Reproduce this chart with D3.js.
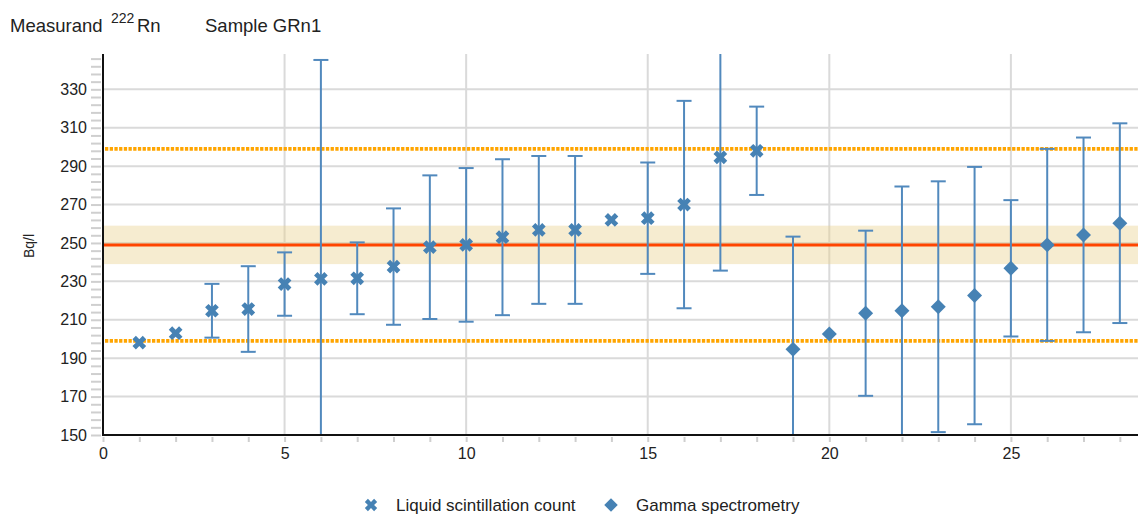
<!DOCTYPE html>
<html lang="en">

<head>
    <meta charset="UTF-8">
    <title>Measurand 222Rn - Sample GRn1</title>
    <style>
        body,
        html {
            margin: 0;
            padding: 0;
            background: #fff;
            overflow: hidden;
        }

        svg {
            display: block;
            font-family: "Liberation Sans", Arial, sans-serif;
        }

        .grid line {
            stroke: #dadada;
            stroke-width: 2;
        }

        .axis text {
            font-size: 16px;
            fill: #222;
        }

        .axis line {
            stroke: #cfcfcf;
            stroke-width: 2;
        }

        .axis path {
            display: none;
        }
    </style>
</head>

<body>
    <svg></svg>
    <script src="https://d3js.org/d3.v7.min.js"></script>
    <script>
        // participant numbers (lab codes on the x axis)
        const lscLabs = [1, 2, 3, 4, 5, 6, 7, 8, 9, 10, 11, 12, 13, 14, 15, 16, 17, 18];
        const lscValues = [198.1, 203.0, 214.7, 215.6, 228.6, 231.3, 231.6, 237.7, 247.8, 249.0, 253.0, 256.8, 256.8, 262.0, 262.9, 270.0, 294.6, 298.0];
        const lscUnc = [0, 0, 14.0, 22.3, 16.5, 114.0, 18.7, 30.3, 37.4, 40.0, 40.6, 38.5, 38.5, 0, 29.0, 54.0, 59.0, 23.0];

        const gammaLabs = [19, 20, 21, 22, 23, 24, 25, 26, 27, 28];
        const gammaValues = [194.6, 202.6, 213.4, 214.7, 216.8, 222.6, 236.8, 249.0, 254.2, 260.3];
        const gammaUnc = [58.7, 0, 43.0, 64.7, 65.3, 67.0, 35.5, 50.0, 50.7, 52.0];

        // reference value, its uncertainty and the acceptance limits
        const refValue = 249;
        const refUnc = 10;
        const limits = [199, 299];

        const yTicks = [150, 170, 190, 210, 230, 250, 270, 290, 310, 330];
        const xTicks = [0, 5, 10, 15, 20, 25];

        const width = 1144, height = 517;
        const margin = { top: 54, right: 6, bottom: 82, left: 103 };
        const markerColor = "#4682b4";
        const barColor = "#5189bd";

        const svg = d3.select("svg")
            .attr("width", width)
            .attr("height", height);

        const x = d3.scaleLinear()
            .domain([0, 28.5])
            .range([margin.left, width - margin.right]);

        const y = d3.scaleLinear()
            .domain([150, 348.4])
            .range([height - margin.bottom, margin.top]);

        svg.append("clipPath")
            .attr("id", "plot-clip")
            .append("rect")
            .attr("x", margin.left)
            .attr("y", margin.top)
            .attr("width", width - margin.right - margin.left)
            .attr("height", height - margin.bottom - margin.top);

        // grid lines
        const grid = svg.append("g").attr("class", "grid");
        grid.selectAll(".h")
            .data(yTicks)
            .enter().append("line")
            .attr("x1", margin.left)
            .attr("x2", width - margin.right)
            .attr("y1", d => y(d))
            .attr("y2", d => y(d));
        grid.selectAll(".v")
            .data(xTicks.filter(d => d > 0))
            .enter().append("line")
            .attr("x1", d => x(d))
            .attr("x2", d => x(d))
            .attr("y1", margin.top)
            .attr("y2", height - margin.bottom);

        // reference band and lines
        svg.append("rect")
            .attr("x", margin.left)
            .attr("width", width - margin.right - margin.left)
            .attr("y", y(refValue + refUnc))
            .attr("height", y(refValue - refUnc) - y(refValue + refUnc))
            .attr("fill", "#e8d08a")
            .attr("fill-opacity", 0.4);

        svg.append("line")
            .attr("x1", margin.left)
            .attr("x2", width - margin.right)
            .attr("y1", y(refValue))
            .attr("y2", y(refValue))
            .attr("stroke", "#ff4500")
            .attr("stroke-width", 3);

        svg.selectAll(".limit")
            .data(limits)
            .enter().append("line")
            .attr("class", "limit")
            .attr("x1", margin.left + 2)
            .attr("x2", width - margin.right)
            .attr("y1", d => y(d))
            .attr("y2", d => y(d))
            .attr("stroke", "#ffa500")
            .attr("stroke-width", 3.6)
            .attr("stroke-dasharray", "3.3,1.4");

        // axes
        const yAxis = d3.axisLeft(y)
            .tickValues(d3.range(150, 347, 4))
            .tickSize(10)
            .tickPadding(4)
            .tickFormat(d => yTicks.includes(d) ? d : "");
        svg.append("g")
            .attr("class", "axis")
            .attr("transform", `translate(${margin.left - 2},0)`)
            .call(yAxis);

        const xAxis = d3.axisBottom(x)
            .tickValues(d3.range(0, 29, 1))
            .tickSize(5)
            .tickPadding(6)
            .tickFormat(d => xTicks.includes(d) ? d : "");
        svg.append("g")
            .attr("class", "axis")
            .attr("transform", `translate(0,${height - margin.bottom + 2})`)
            .call(xAxis);

        // error bars
        const points = lscLabs.map((lab, i) => ({ lab, v: lscValues[i], u: lscUnc[i], kind: "lsc" }))
            .concat(gammaLabs.map((lab, i) => ({ lab, v: gammaValues[i], u: gammaUnc[i], kind: "gamma" })));

        const bars = svg.append("g")
            .attr("clip-path", "url(#plot-clip)")
            .attr("stroke", barColor)
            .attr("stroke-width", 2)
            .selectAll("g")
            .data(points.filter(d => d.u > 0))
            .enter().append("g");

        bars.append("line")
            .attr("x1", d => x(d.lab))
            .attr("x2", d => x(d.lab))
            .attr("y1", d => y(d.v - d.u))
            .attr("y2", d => y(d.v + d.u));
        bars.append("line")
            .attr("x1", d => x(d.lab) - 7.5)
            .attr("x2", d => x(d.lab) + 7.5)
            .attr("y1", d => y(d.v + d.u))
            .attr("y2", d => y(d.v + d.u));
        bars.append("line")
            .attr("x1", d => x(d.lab) - 7.5)
            .attr("x2", d => x(d.lab) + 7.5)
            .attr("y1", d => y(d.v - d.u))
            .attr("y2", d => y(d.v - d.u));

        // markers
        const crossPath = d3.symbol().type(d3.symbolCross).size(118)();
        const diamondPath = d3.symbol().type(d3.symbolSquare).size(112)();

        svg.append("g")
            .selectAll("path")
            .data(points)
            .enter().append("path")
            .attr("d", d => d.kind === "lsc" ? crossPath : diamondPath)
            .attr("transform", d => `translate(${x(d.lab)},${y(d.v)}) rotate(45)`)
            .attr("fill", markerColor);

        // axis lines
        svg.append("line")
            .attr("x1", margin.left)
            .attr("x2", margin.left)
            .attr("y1", margin.top)
            .attr("y2", height - margin.bottom + 1)
            .attr("stroke", "#111")
            .attr("stroke-width", 2);
        svg.append("line")
            .attr("x1", margin.left - 1)
            .attr("x2", width - margin.right)
            .attr("y1", height - margin.bottom)
            .attr("y2", height - margin.bottom)
            .attr("stroke", "#111")
            .attr("stroke-width", 2);

        // y axis title
        svg.append("text")
            .attr("transform", `translate(34,246) rotate(-90)`)
            .attr("text-anchor", "middle")
            .attr("font-size", 14)
            .attr("fill", "#222")
            .text("Bq/l");

        // header
        const header = svg.append("g").attr("fill", "#222");
        header.append("text").attr("x", 10).attr("y", 31.5).attr("font-size", 18.5).text("Measurand");
        header.append("text").attr("x", 111).attr("y", 23).attr("font-size", 14).text("222");
        header.append("text").attr("x", 137).attr("y", 31.5).attr("font-size", 18.5).text("Rn");
        header.append("text").attr("x", 205).attr("y", 31.5).attr("font-size", 18.5).text("Sample GRn1");

        // legend
        const legendItems = [
            { label: "Liquid scintillation count", path: crossPath, sx: 371, tx: 396 },
            { label: "Gamma spectrometry", path: diamondPath, sx: 611, tx: 636 }
        ];
        const legend = svg.append("g")
            .selectAll("g")
            .data(legendItems)
            .enter().append("g");
        legend.append("path")
            .attr("d", d => d.path)
            .attr("transform", d => `translate(${d.sx},505) rotate(45) scale(0.9)`)
            .attr("fill", markerColor);
        legend.append("text")
            .attr("x", d => d.tx)
            .attr("y", 511)
            .attr("font-size", 17)
            .attr("fill", "#222")
            .text(d => d.label);
    </script>
</body>

</html>
